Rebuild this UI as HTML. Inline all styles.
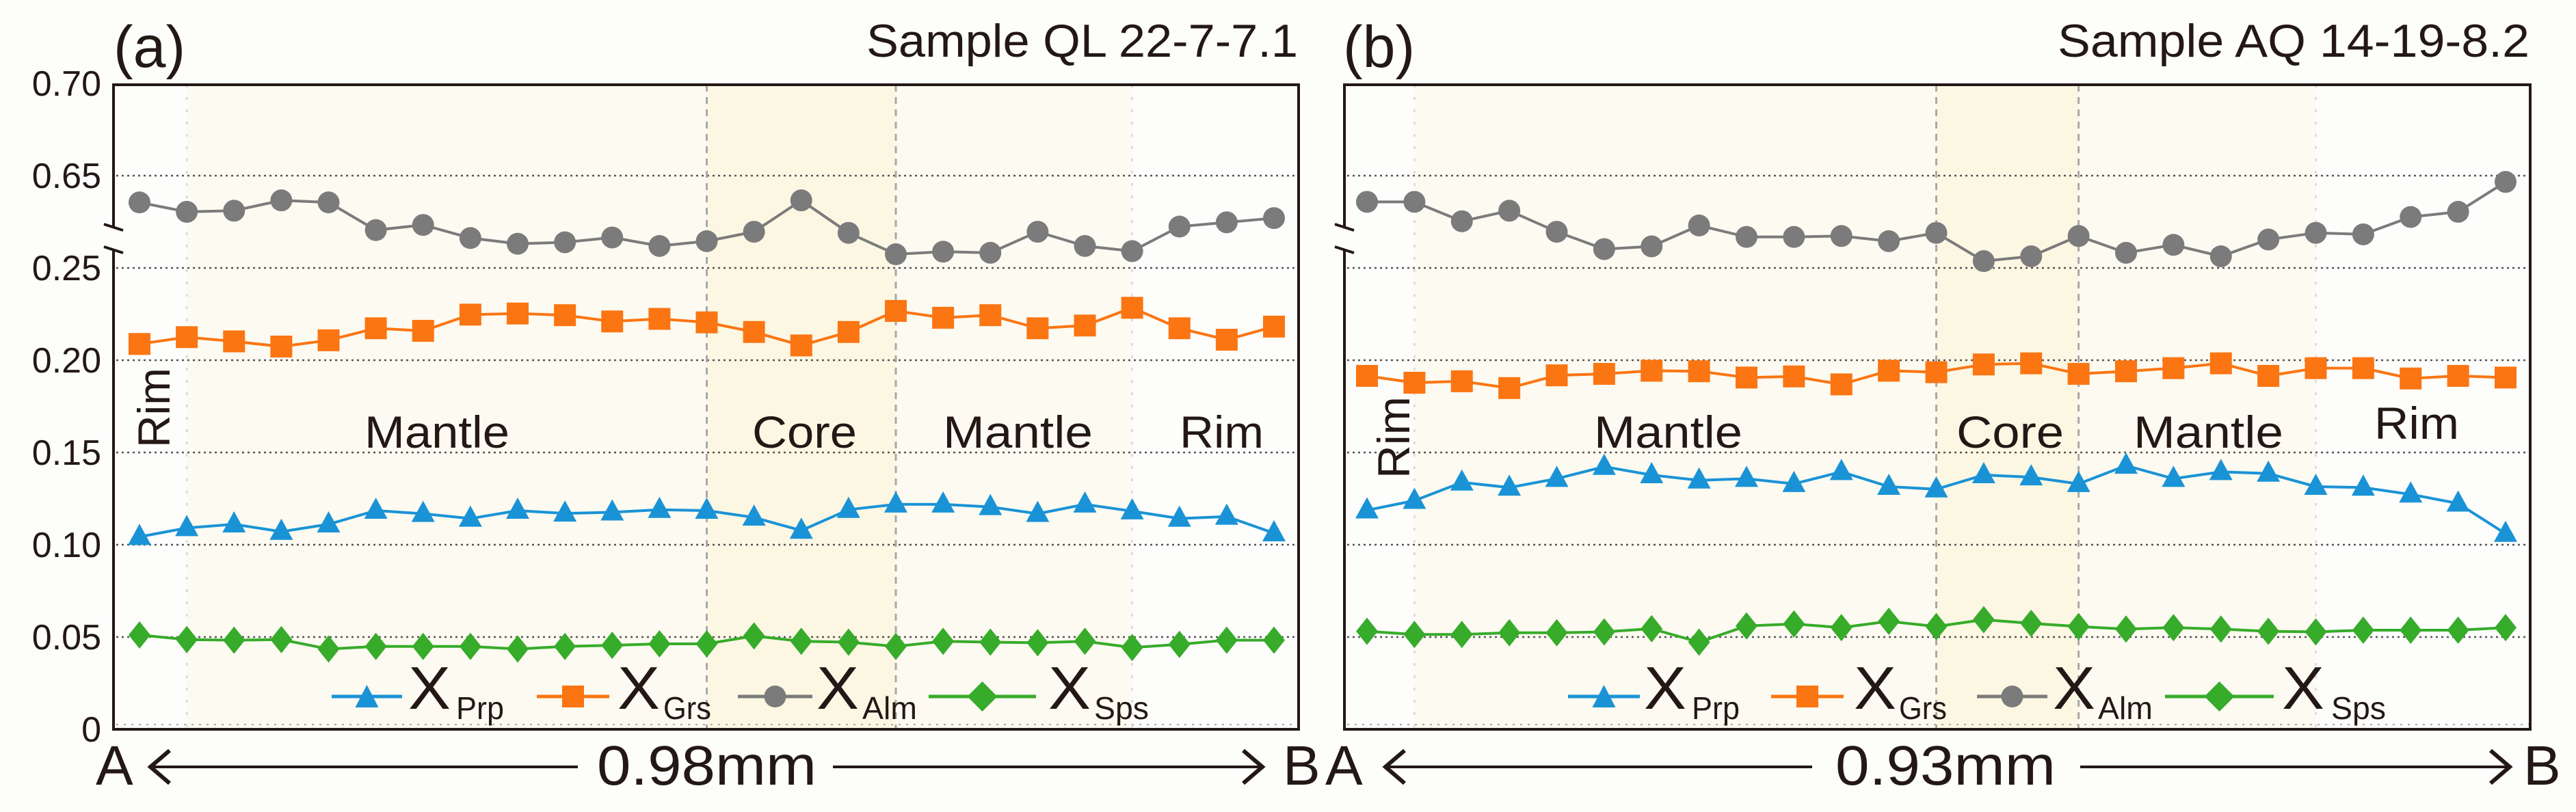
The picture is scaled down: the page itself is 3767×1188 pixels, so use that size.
<!DOCTYPE html>
<html><head><meta charset="utf-8"><style>
html,body{margin:0;padding:0;background:#fdfdfc;}
svg{display:block;font-family:"Liberation Sans",sans-serif;}
</style></head><body>
<svg id="fig" width="3767" height="1188" viewBox="0 0 3767 1188" xmlns="http://www.w3.org/2000/svg">
<rect x="0" y="0" width="3767" height="1188" fill="#fdfdfc"/>
</svg>
<script>
// ---- data ----
const yTickLabels = ["0","0.05","0.10","0.15","0.20","0.25","0.65","0.70"];
const prpA = [0.1043,0.1091,0.1111,0.1071,0.1111,0.1185,0.1168,0.1142,0.1185,0.117,0.1176,0.119,0.1185,0.1148,0.1077,0.119,0.1219,0.1219,0.1205,0.1168,0.1219,0.1182,0.1142,0.1153,0.1063];
const grsA = [0.2088,0.2125,0.2102,0.2074,0.2108,0.2173,0.2159,0.2247,0.2253,0.2244,0.221,0.2224,0.2205,0.2153,0.208,0.2153,0.2267,0.223,0.2244,0.2173,0.2188,0.2284,0.2173,0.2111,0.2182];
const almA = [0.6355,0.6304,0.631,0.6366,0.6355,0.6205,0.6233,0.6162,0.6131,0.6139,0.6165,0.6119,0.6145,0.6196,0.6366,0.619,0.6074,0.6088,0.6082,0.6196,0.6119,0.6091,0.6224,0.6247,0.627];
const spsA = [0.0511,0.0486,0.0483,0.0486,0.0435,0.0449,0.0449,0.0449,0.0435,0.0449,0.0455,0.0463,0.0463,0.0506,0.0477,0.0472,0.0449,0.0477,0.0472,0.0469,0.0477,0.0443,0.046,0.0483,0.0483];
const prpB = [0.1187,0.1239,0.1338,0.131,0.1358,0.1423,0.1378,0.1349,0.1358,0.133,0.1395,0.1315,0.1301,0.1378,0.1366,0.133,0.1429,0.1358,0.1395,0.1386,0.1315,0.131,0.1273,0.1224,0.106];
const grsB = [0.1915,0.1878,0.1886,0.1849,0.1918,0.1926,0.1943,0.194,0.1906,0.1912,0.1869,0.1943,0.1935,0.1977,0.1983,0.1926,0.194,0.1957,0.1983,0.1915,0.1957,0.1957,0.1901,0.1915,0.1906];
const almB = [0.6358,0.6358,0.6253,0.631,0.6196,0.6102,0.6117,0.623,0.6168,0.6168,0.6173,0.6145,0.619,0.6037,0.6063,0.6173,0.6082,0.6125,0.6063,0.6154,0.619,0.6182,0.6276,0.6304,0.6466];
const spsB = [0.0531,0.0514,0.0514,0.0523,0.0523,0.0528,0.0545,0.0472,0.056,0.0571,0.0551,0.0585,0.0557,0.0594,0.0574,0.0557,0.0543,0.0551,0.0543,0.0531,0.0528,0.0537,0.0537,0.0537,0.0551];
const zonesA = [1,12,16,21];
const zonesB = [1,12,15,20];

const NS="http://www.w3.org/2000/svg";
const svg=document.getElementById('fig');
function mk(tag,attrs,parent){const e=document.createElementNS(NS,tag);for(const k in attrs)e.setAttribute(k,attrs[k]);(parent||svg).appendChild(e);return e;}
function txt(s,attrs,parent){const e=mk('text',attrs,parent);e.textContent=s;return e;}

const TOP=124,BOT=1067,STEP=135;
function yScale(v){ if(v>0.4) return (BOT-6*STEP)+(0.65-v)/0.05*STEP; return BOT-v/0.05*STEP; }

const COL={prp:"#1a93d6",grs:"#fb7512",alm:"#7b7b7b",sps:"#37ab2a"};

function panel(cfg){
  const g=mk('g',{});
  
  
  const L=cfg.left,R=cfg.right;
  const n=cfg.prp.length;
  const xS=i=>cfg.x0+(cfg.x1-cfg.x0)*i/(n-1);
  const z=cfg.zones;
  // shading
  const s1=mk('rect',{x:xS(z[0]),y:TOP,width:xS(z[3])-xS(z[0]),height:BOT-TOP,fill:"#fcfaf1"},g);
  
  const s2=mk('rect',{x:xS(z[1]),y:TOP,width:xS(z[2])-xS(z[1]),height:BOT-TOP,fill:"#fbf7e3"},g);
  
  // gridlines
  for(let i=1;i<=6;i++){const y=BOT-i*STEP;
    const gl=mk('line',{x1:L+4,x2:R-2,y1:y,y2:y,stroke:"#555",'stroke-width':2.5,'stroke-dasharray':"3 5"},g);
    }
  mk('line',{x1:L+4,x2:R-2,y1:BOT-7,y2:BOT-7,stroke:"#aaa",'stroke-width':2,'stroke-dasharray':"3 8"},g);
  // zone lines
  z.forEach((zi,k)=>{const x=xS(zi);const strong=(k==1||k==2);
    const zl=mk('line',{x1:x,x2:x,y1:TOP,y2:BOT,stroke:strong?"#a8a8a8":"#dcdcd8",'stroke-width':strong?3:3,'stroke-dasharray':strong?"10 8":"4 14"},g);
    });
  // frame
  const fr=mk('path',{d:`M${L},333 L${L},${TOP} L${R},${TOP} L${R},${BOT} L${L},${BOT} L${L},367`,fill:"none",stroke:"#231815",'stroke-width':4},g);
  
  mk('line',{x1:L-14,y1:328,x2:L+14,y2:337,stroke:"#231815",'stroke-width':4},g);
  mk('line',{x1:L-14,y1:361,x2:L+14,y2:370,stroke:"#231815",'stroke-width':4},g);
  // y tick labels
  if(cfg.ticks){yTickLabels.forEach((t,i)=>{const y=BOT-i*STEP;
    const e=txt(t,{x:148,y:y+18,'font-size':52,'text-anchor':'end',fill:"#231815"},g);
    });}
  // series
  function marker(type,x,y,c){
    if(type=='prp') return mk('polygon',{points:`${x},${y-19} ${x-17},${y+12} ${x+17},${y+12}`,fill:c},g);
    if(type=='grs') return mk('rect',{x:x-16,y:y-16,width:32,height:32,fill:c},g);
    if(type=='alm') return mk('circle',{cx:x,cy:y,r:16,fill:c},g);
    return mk('polygon',{points:`${x},${y-20} ${x+16},${y} ${x},${y+20} ${x-16},${y}`,fill:c},g);
  }
  ['alm','grs','prp','sps'].forEach(k=>{
    const vals=cfg[k];
    const pts=vals.map((v,i)=>xS(i)+","+yScale(v)).join(" ");
    const pl=mk('polyline',{points:pts,fill:"none",stroke:COL[k],'stroke-width':4},g);
    
    vals.forEach((v,i)=>{const m=marker(k,xS(i),yScale(v),COL[k]);
      });
  });
  // zone labels
  cfg.labels.forEach(lb=>{
    let e;
    if(lb.rot){e=txt(lb.t,{x:0,y:0,'font-size':66,fill:"#231815",textLength:lb.w,lengthAdjust:"spacingAndGlyphs",transform:`translate(${lb.x},${lb.y}) rotate(-90)`},g);}
    else e=txt(lb.t,{x:lb.x,y:lb.y,'font-size':66,fill:"#231815",textLength:lb.w,lengthAdjust:"spacingAndGlyphs"},g);
    
  });
  // legend
  cfg.legend.forEach(le=>{
    const lg=mk('g',{},g);
    
    mk('line',{x1:le.l0,x2:le.l1,y1:1019,y2:1019,stroke:COL[le.k],'stroke-width':5},lg);
    const mx=(le.l0+le.l1)/2;
    if(le.k=='prp') mk('polygon',{points:`${mx},1002 ${mx-17},1035 ${mx+17},1035`,fill:COL.prp},lg);
    if(le.k=='grs') mk('rect',{x:mx-16,y:1003,width:32,height:32,fill:COL.grs},lg);
    if(le.k=='alm') mk('circle',{cx:mx,cy:1019,r:16,fill:COL.alm},lg);
    if(le.k=='sps') mk('polygon',{points:`${mx},997 ${mx+22},1019 ${mx},1041 ${mx-22},1019`,fill:COL.sps},lg);
    txt("X",{x:le.xx,y:1037,'font-size':88,fill:"#231815",textLength:62,lengthAdjust:"spacingAndGlyphs"},lg);
    txt(le.s,{x:le.sx,y:1052,'font-size':46,fill:"#231815",textLength:le.sw,lengthAdjust:"spacingAndGlyphs"},lg);
  });
  // panel letter & title
  const pl=txt(cfg.letter,{x:cfg.letterX,y:98,'font-size':86,fill:"#231815"},g);
  
  const tt=txt(cfg.title,{x:cfg.titleX0,y:83,'font-size':68,fill:"#231815",textLength:cfg.titleW,lengthAdjust:"spacingAndGlyphs"},g);
  
  // bottom arrow
  const ag=mk('g',{},g);
  
  txt("A",{x:cfg.aX,y:1148,'font-size':82,fill:"#231815"},ag);
  txt("B",{x:cfg.bX,y:1148,'font-size':82,fill:"#231815"},ag);
  mk('line',{x1:cfg.ar[0],x2:cfg.ar[1],y1:1122,y2:1122,stroke:"#231815",'stroke-width':4},ag);
  mk('line',{x1:cfg.ar[2],x2:cfg.ar[3],y1:1122,y2:1122,stroke:"#231815",'stroke-width':4},ag);
  mk('polyline',{points:`${cfg.ar[0]+30},1098 ${cfg.ar[0]+2},1122 ${cfg.ar[0]+30},1146`,fill:"none",stroke:"#231815",'stroke-width':6},ag);
  mk('polyline',{points:`${cfg.ar[3]-30},1098 ${cfg.ar[3]-2},1122 ${cfg.ar[3]-30},1146`,fill:"none",stroke:"#231815",'stroke-width':6},ag);
  txt(cfg.dist,{x:cfg.distX,y:1148,'font-size':82,fill:"#231815",textLength:cfg.distW,lengthAdjust:"spacingAndGlyphs"},ag);
}

panel({name:"panel-a",left:166,right:1899,x0:204,x1:1863,ticks:true,zones:zonesA,
  prp:prpA,grs:grsA,alm:almA,sps:spsA,
  labels:[{t:"Rim",rot:true,x:248,y:655,w:117},{t:"Mantle",x:533,y:655,w:212},{t:"Core",x:1100,y:655,w:153},{t:"Mantle",x:1379,y:655,w:219},{t:"Rim",x:1725,y:655,w:123}],
  legend:[{k:'prp',l0:485,l1:588,xx:597,sx:667,s:"Prp",sw:70},{k:'grs',l0:785,l1:891,xx:903,sx:970,s:"Grs",sw:70},{k:'alm',l0:1079,l1:1188,xx:1194,sx:1261,s:"Alm",sw:80},{k:'sps',l0:1358,l1:1515,xx:1533,sx:1600,s:"Sps",sw:80}],
  letter:"(a)",letterX:166,title:"Sample QL 22-7-7.1",titleX0:1267,titleW:631,
  aX:140,bX:1876,ar:[218,845,1218,1848],dist:"0.98mm",distX:873,distW:321});

panel({name:"panel-b",left:1966,right:3700,x0:1999,x1:3664,ticks:false,zones:zonesB,
  prp:prpB,grs:grsB,alm:almB,sps:spsB,
  labels:[{t:"Rim",rot:true,x:2061,y:700,w:120},{t:"Mantle",x:2331,y:655,w:217},{t:"Core",x:2861,y:655,w:157},{t:"Mantle",x:3120,y:655,w:219},{t:"Rim",x:3472,y:642,w:124}],
  legend:[{k:'prp',l0:2293,l1:2398,xx:2404,sx:2474,s:"Prp",sw:70},{k:'grs',l0:2590,l1:2696,xx:2711,sx:2777,s:"Grs",sw:70},{k:'alm',l0:2891,l1:2994,xx:3002,sx:3068,s:"Alm",sw:80},{k:'sps',l0:3166,l1:3325,xx:3337,sx:3409,s:"Sps",sw:80}],
  letter:"(b)",letterX:1964,title:"Sample AQ 14-19-8.2",titleX0:3009,titleW:690,
  aX:1938,bX:3690,ar:[2024,2650,3042,3672],dist:"0.93mm",distX:2684,distW:322});
</script>
</body></html>
